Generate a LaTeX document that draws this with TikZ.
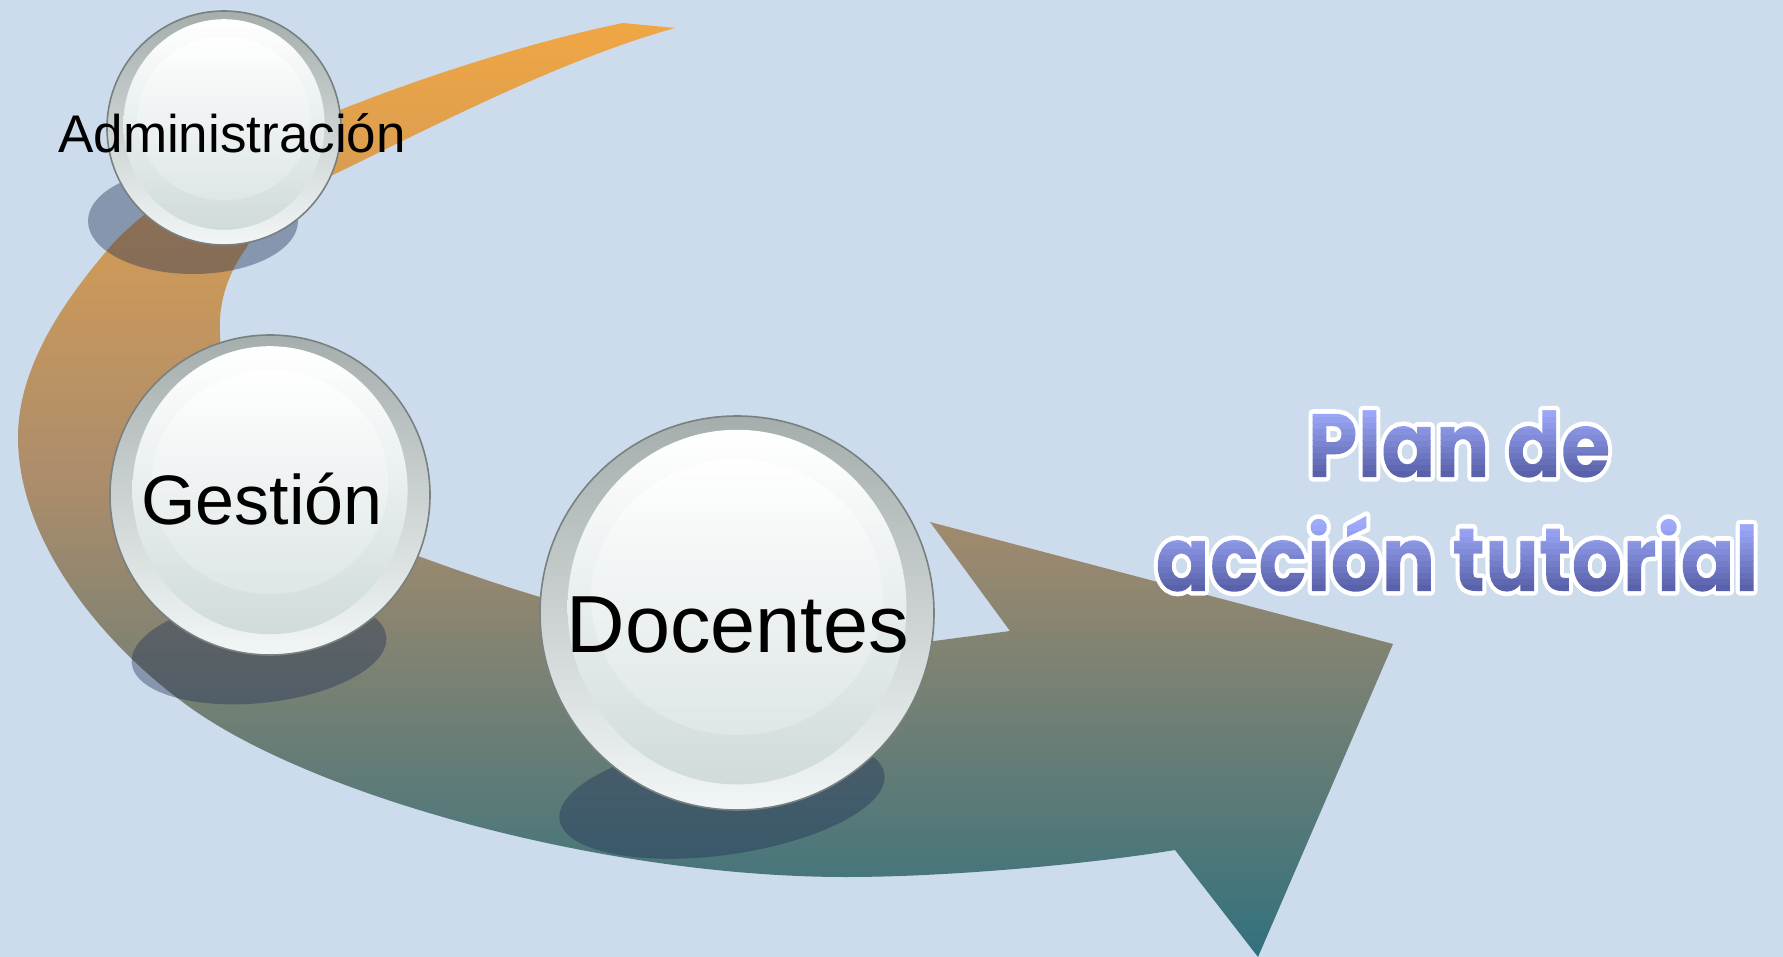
\documentclass[tikz,border=0pt]{standalone}
\usepackage{fontspec}
\usepackage{graphicx}
\setmainfont{Liberation Sans}
\newfontfamily\titlefont{Poppins}
\usetikzlibrary{calc}
\definecolor{bg}{RGB}{204,220,236}
\definecolor{bandtop}{RGB}{240,166,68}
\definecolor{bandmid}{RGB}{170,140,108}
\definecolor{bandbot}{RGB}{50,113,126}
\definecolor{shadowc}{RGB}{30,45,85}
\definecolor{ballline}{RGB}{120,128,128}
\definecolor{ringtop}{RGB}{165,173,173}
\definecolor{ringbot}{RGB}{242,246,246}
\definecolor{innerbot}{RGB}{208,219,219}
\definecolor{hilibot}{RGB}{222,230,230}
\definecolor{titlebot}{RGB}{86,94,166}
\tikzset{
 ballouter/.style={circle, inner sep=0pt, draw=ballline, line width=0.8pt, top color=ringtop, bottom color=ringbot},
 ballinner/.style={top color=white, bottom color=innerbot},
 ballhili/.style={top color=white, bottom color=hilibot},
 shadowfill/.style={fill=shadowc, fill opacity=0.4},
 bandshade/.style={top color=bandtop, bottom color=bandbot, middle color=bandmid},
 balltext/.style={inner sep=0pt, anchor=base, text=black},
 titletext/.style={inner sep=0pt, anchor=base, text=titlebot, font=\titlefont\bfseries\fontsize{45}{45}\selectfont},
}
\newcommand\glassball[4]{%
  \node[ballouter, minimum size=#4pt] (#1) at (#2,#3) {};
  \shade[ballinner] ($(#1.center)+(0,{-0.03*#4})$) ellipse [x radius={0.43*#4pt}, y radius={0.45*#4pt}];
  \shade[ballhili] ($(#1.center)+(0,{-0.08*#4})$) ellipse [x radius={0.37*#4pt}, y radius={0.35*#4pt}];
}
% gradient strips painted inside the glyph clip (PDF user space, origin at end of line)
\def\stripops{.337 .369 .651 rg -900 -20 940 20.2 re f
.350 .382 .666 rg -900 0 940 3.2 re f
.376 .409 .696 rg -900 3 940 3.2 re f
.402 .436 .726 rg -900 6 940 3.2 re f
.427 .464 .756 rg -900 9 940 3.2 re f
.453 .491 .786 rg -900 12 940 3.2 re f
.478 .518 .816 rg -900 15 940 3.2 re f
.504 .545 .846 rg -900 18 940 3.2 re f
.530 .572 .876 rg -900 21 940 3.2 re f
.555 .599 .906 rg -900 24 940 3.2 re f
.581 .626 .936 rg -900 27 940 3.2 re f
.607 .653 .966 rg -900 30 940 3.2 re f
.620 .667 .980 rg -900 33 940 20 re f}
\newcommand\titleline[4]{%
  \node[titletext] (#1) at (#2,#3) {\scalebox{0.89}[1]{\special{pdf:bcontent}\special{pdf:literal direct 1 1 1 RG 4.6 w 1 j 6 Tr}#4\special{pdf:content \stripops}\special{pdf:econtent}}};
}
\begin{document}
\begin{tikzpicture}[x=0.5pt,y=-0.5pt]
\useasboundingbox (0,0) rectangle (1783,957);
\fill[bg] (0,0) rectangle (1783,957);
\clip (0,0) rectangle (1783,957);
% band arrow
\shade[bandshade] (623,23)
 .. controls (530,42) and (420,78) .. (340,110)
 .. controls (260,142) and (160,190) .. (110,247)
 .. controls (60,305) and (18,370) .. (18,437)
 .. controls (18,540) and (100,640) .. (180,700)
 .. controls (300,793) and (600,877) .. (846,877)
 .. controls (950,877) and (1090,864) .. (1175,850)
 -- (1258,957) -- (1393,644) -- (930,522) -- (1010,631) -- (934,641)
 .. controls (850,650) and (680,640) .. (540,597)
 .. controls (500,585) and (465,573) .. (429,560)
 .. controls (330,525) and (222,450) .. (220,333)
 .. controls (218,300) and (230,270) .. (247,247)
 .. controls (262,215) and (300,190) .. (337,173)
 .. controls (430,128) and (560,60) .. (675,28) -- cycle;
% shadows
\fill[shadowfill] (193,221) ellipse [x radius=52.5pt, y radius=26.5pt];
\begin{scope}[shift={(259,650)}, rotate=6]
\fill[shadowfill] (0,0) ellipse [x radius=64pt, y radius=26.5pt];
\end{scope}
\begin{scope}[shift={(722,797)}, rotate=8]
\fill[shadowfill] (0,0) ellipse [x radius=82pt, y radius=29pt];
\end{scope}
% balls
\glassball{adm}{224}{128}{117}
\glassball{ges}{270}{495}{160}
\glassball{doc}{737}{613}{197}
\node[balltext, font=\fontsize{26.5}{26.5}\selectfont] (admt) at (232,153) {Administración};
\node[balltext, font=\fontsize{35}{35}\selectfont] (gest) at (262,524) {Gestión};
\node[balltext, font=\fontsize{40.5}{40.5}\selectfont] (doct) at (738,652) {Docentes};
% title
\titleline{tl1}{1459}{477}{Plan de}
\titleline{tl2}{1457}{591}{acción tutorial}
\end{tikzpicture}
\end{document}
